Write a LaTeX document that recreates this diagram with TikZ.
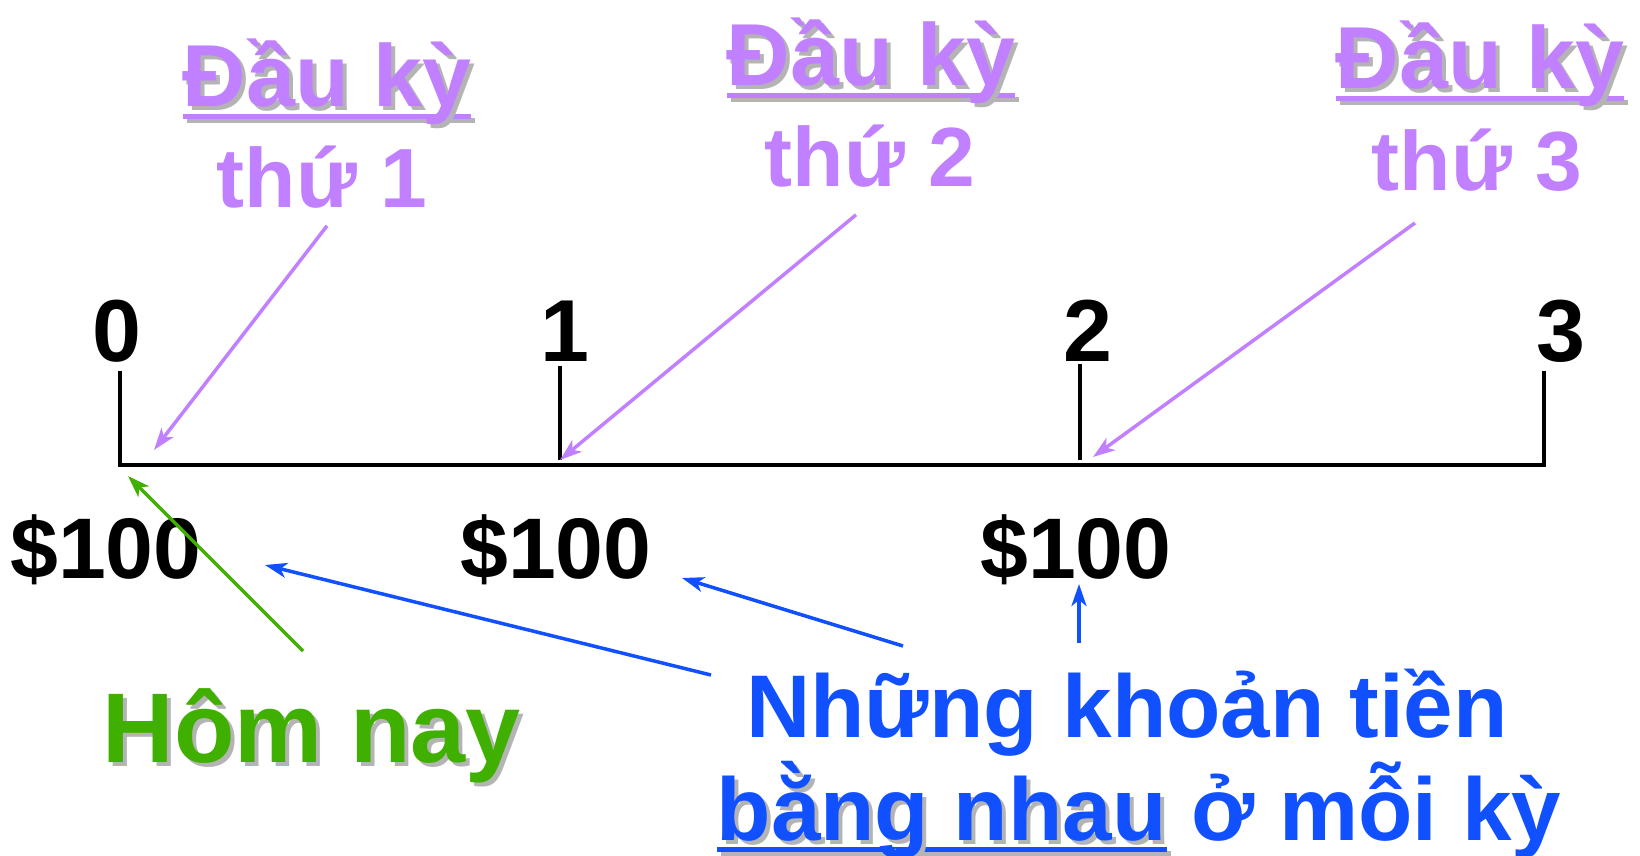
\documentclass[tikz,border=0pt]{standalone}
\usepackage{fontspec}
\setmainfont{Liberation Sans}
\usetikzlibrary{arrows.meta, positioning, calc}
\definecolor{cpurple}{HTML}{C080FF}
\definecolor{cgreen}{HTML}{40B000}
\definecolor{cblue}{HTML}{1050FF}
\definecolor{cshadow}{HTML}{B4B4B4}
\newlength\ulwidth
% text with a grey drop shadow
\newcommand\shtext[1]{\rlap{\hspace{4pt}\raisebox{-4pt}{\textcolor{cshadow}{#1}}}#1}
% underlined text, shadow on both
\newcommand\shuline[1]{\settowidth\ulwidth{#1}%
  \rlap{\hspace{4pt}\textcolor{cshadow}{\rule[-16pt]{\ulwidth}{5pt}}}%
  \rlap{\rule[-12pt]{\ulwidth}{5pt}}\shtext{#1}}
\tikzset{
  every picture/.style={line width=4pt},
  lbl/.style={anchor=base, inner sep=0pt, font=\fontsize{#1}{#1}\selectfont\bfseries},
  lbl/.default=88,
  period/.style={lbl=#1, text=cpurple},
  period/.default=88,
  num/.style={lbl=#1, text=black},
  num/.default=88,
  tl/.style={draw=black, line width=4.5pt},
  pointer/.style={-{Stealth[length=22pt, width=15pt, inset=6pt]}, draw=#1, line width=3.5pt},
}
\begin{document}
\begin{tikzpicture}[x=1pt, y=-1pt]
  \useasboundingbox (0,0) rectangle (1640,856);
  % period headings
  \node[period] (hd1) at (327,107) {\shuline{Đầu kỳ}};
  \node[period=84] (th1) at (322,207) {thứ 1};
  \node[period] (hd2) at (871,86) {\shuline{Đầu kỳ}};
  \node[period=84] (th2) at (870,186) {thứ 2};
  \node[period] (hd3) at (1480,89) {\shuline{Đầu kỳ}};
  \node[period=84] (th3) at (1477,190) {thứ 3};
  % time line
  \node[num] (n0) at (117,361) {0};
  \node[num] (n1) at (565,361) {1};
  \node[num] (n2) at (1088,361) {2};
  \node[num] (n3) at (1561,361) {3};
  \coordinate (k0) at (120,371);
  \coordinate (k1) at (560,366);
  \coordinate (k2) at (1080,364);
  \coordinate (k3) at (1544,371);
  \coordinate (b0) at (120,465);
  \coordinate (b1) at (560,460);
  \coordinate (b2) at (1080,460);
  \coordinate (b3) at (1544,465);
  \draw[tl] (k0) -- (b0) -- (b3) -- (k3);
  \draw[tl] (k1) -- (b1);
  \draw[tl] (k2) -- (b2);
  % payments
  \node[num=86] (m1) at (106,578) {\$100};
  \node[num=86] (m2) at (556,578) {\$100};
  \node[num=86] (m3) at (1076,578) {\$100};
  \node[lbl=99, text=cgreen] (today) at (312,762) {\shtext{Hôm nay}};
  \node[lbl=89, text=cblue] (pay1) at (1127,737) {Những khoản tiền};
  \node[lbl=89, text=cblue] (pay2) at (1139,840) {\shuline{bằng nhau} ở mỗi kỳ};
  % arrow ends
  \coordinate (a1) at (154,450);
  \coordinate (a3) at (1093,457);
  \coordinate (g0) at (128,476);
  \coordinate (g1) at (303,651);
  \coordinate (u1) at (711,675);
  \coordinate (u2) at (903,646);
  \coordinate (u3) at (1079,643);
  \coordinate (v1) at (265,565);
  \coordinate (v2) at (682,578);
  \coordinate (v3) at (1079,584);
  \draw[pointer=cpurple] ([xshift=5pt, yshift=-16pt]th1.south) -- (a1);
  \draw[pointer=cpurple] ([xshift=-14pt, yshift=-26pt]th2.south) -- (b1);
  \draw[pointer=cpurple] ([xshift=-62pt, yshift=-30pt]th3.south) -- (a3);
  \draw[pointer=cgreen] (g1) -- (g0);
  \draw[pointer=cblue] (u1) -- (v1);
  \draw[pointer=cblue] (u2) -- (v2);
  \draw[pointer=cblue] (u3) -- (v3);
\end{tikzpicture}
\end{document}
